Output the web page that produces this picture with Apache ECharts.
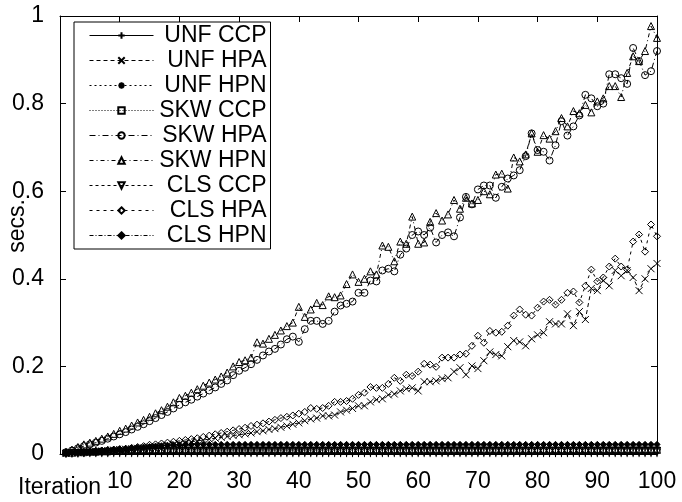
<!DOCTYPE html>
<html>
<head>
<meta charset="utf-8">
<script src="https://cdn.jsdelivr.net/npm/echarts@6/dist/echarts.min.js"></script>
<style>
html,body{margin:0;padding:0;background:#fff;}
#c{width:682px;height:502px;}
</style>
</head>
<body>
<div id="c"></div>
<script>
// ---- data ----
var iterations = [];
for (var k = 1; k <= 100; k++) iterations.push(k);

var seriesNames = ['UNF CCP','UNF HPA','UNF HPN','SKW CCP','SKW HPA','SKW HPN','CLS CCP','CLS HPA','CLS HPN'];
var xTickLabels = ['10','20','30','40','50','60','70','80','90','100'];
var yTickLabels = ['0','0.2','0.4','0.6','0.8','1'];

var unfCcp = [
.001,.001,.001,.002,.002,.002,.002,.002,.002,.002,
.002,.002,.002,.002,.002,.002,.002,.002,.002,.002,
.002,.002,.002,.002,.002,.002,.002,.002,.002,.002,
.002,.002,.002,.002,.002,.002,.002,.002,.002,.002,
.002,.002,.002,.002,.002,.002,.002,.002,.002,.002,
.002,.002,.002,.002,.002,.002,.002,.002,.002,.002,
.002,.002,.002,.002,.002,.002,.002,.002,.002,.002,
.002,.002,.002,.002,.002,.002,.002,.002,.002,.002,
.002,.002,.002,.002,.002,.002,.002,.002,.002,.002,
.002,.002,.002,.002,.002,.002,.002,.002,.002,.002];

var unfHpa = [
.001,.002,.003,.004,.005,.006,.007,.008,.009,.010,
.011,.012,.013,.014,.016,.017,.019,.020,.022,.024,
.026,.028,.030,.032,.034,.036,.038,.040,.042,.044,
.046,.048,.051,.053,.056,.058,.061,.064,.068,.071,
.076,.080,.082,.087,.087,.089,.096,.100,.104,.110,
.110,.119,.124,.126,.135,.137,.144,.149,.151,.144,
.165,.165,.167,.172,.174,.188,.197,.181,.201,.195,
.213,.233,.227,.224,.245,.259,.256,.247,.263,.272,
.277,.302,.297,.297,.320,.293,.325,.307,.378,.373,
.396,.384,.419,.407,.419,.403,.373,.400,.423,.435];

var unfHpn = [
.001,.002,.003,.004,.005,.006,.006,.007,.008,.009,
.009,.010,.011,.011,.012,.013,.013,.014,.014,.015,
.015,.015,.015,.015,.015,.015,.015,.015,.015,.015,
.015,.015,.015,.015,.015,.015,.015,.015,.015,.015,
.015,.015,.015,.015,.015,.015,.015,.015,.015,.015,
.015,.015,.015,.015,.015,.015,.015,.015,.015,.015,
.015,.015,.015,.015,.015,.015,.015,.015,.015,.015,
.015,.015,.015,.015,.015,.015,.015,.015,.015,.015,
.015,.015,.015,.015,.015,.015,.015,.015,.015,.015,
.015,.015,.015,.015,.015,.015,.015,.015,.015,.015];

var skwCcp = [
.002,.002,.003,.003,.004,.004,.005,.005,.006,.006,
.006,.007,.007,.007,.008,.008,.008,.009,.009,.009,
.009,.009,.009,.009,.009,.009,.009,.009,.009,.009,
.009,.009,.009,.009,.009,.009,.009,.009,.009,.009,
.009,.009,.009,.009,.009,.009,.009,.009,.009,.009,
.009,.009,.009,.009,.009,.009,.009,.009,.009,.009,
.009,.009,.009,.009,.009,.009,.009,.009,.009,.009,
.009,.009,.009,.009,.009,.009,.009,.009,.009,.009,
.009,.009,.009,.009,.009,.009,.009,.009,.009,.009,
.009,.009,.009,.009,.009,.009,.009,.009,.009,.009];

var skwHpa = [
.004,.008,.013,.018,.022,.026,.030,.035,.040,.045,
.050,.056,.062,.068,.075,.082,.089,.096,.104,.112,
.118,.124,.131,.138,.145,.152,.160,.168,.180,.190,
.197,.205,.215,.225,.234,.240,.250,.262,.268,.256,
.285,.304,.304,.297,.304,.325,.339,.343,.348,.368,
.368,.396,.394,.419,.423,.417,.455,.469,.500,.508,
.500,.517,.483,.500,.506,.497,.540,.587,.570,.604,
.613,.613,.585,.610,.629,.636,.648,.680,.732,.694,
.690,.670,.705,.760,.727,.748,.773,.820,.812,.794,
.800,.867,.867,.858,.845,.927,.897,.865,.874,.920];

var skwHpn = [
.005,.010,.016,.022,.026,.030,.035,.040,.046,.053,
.058,.065,.072,.078,.085,.093,.100,.108,.118,.128,
.133,.140,.148,.156,.163,.170,.177,.186,.200,.210,
.214,.220,.255,.252,.263,.272,.282,.292,.300,.336,
.313,.330,.345,.340,.360,.358,.362,.388,.410,.393,
.400,.417,.410,.476,.473,.440,.485,.480,.542,.480,
.483,.530,.550,.533,.547,.580,.560,.585,.572,.580,
.600,.593,.638,.640,.606,.677,.668,.684,.732,.690,
.728,.720,.737,.767,.748,.783,.778,.797,.780,.805,
.812,.840,.840,.815,.870,.908,.897,.920,.977,.950];

var clsCcp = [
.001,.002,.002,.002,.003,.003,.003,.003,.004,.004,
.004,.004,.004,.004,.004,.004,.004,.004,.004,.004,
.004,.004,.004,.004,.004,.004,.004,.004,.004,.004,
.004,.004,.004,.004,.004,.004,.004,.004,.004,.004,
.004,.004,.004,.004,.004,.004,.004,.004,.004,.004,
.004,.004,.004,.004,.004,.004,.004,.004,.004,.004,
.004,.004,.004,.004,.004,.004,.004,.004,.004,.004,
.004,.004,.004,.004,.004,.004,.004,.004,.004,.004,
.004,.004,.004,.004,.004,.004,.004,.004,.004,.004,
.004,.004,.004,.004,.004,.004,.004,.004,.004,.004];

var clsHpa = [
.002,.003,.004,.005,.006,.007,.008,.009,.010,.011,
.012,.014,.016,.018,.021,.022,.024,.026,.028,.030,
.032,.034,.036,.039,.042,.045,.048,.051,.054,.057,
.060,.064,.067,.070,.074,.078,.082,.085,.088,.092,
.096,.105,.103,.105,.110,.119,.119,.121,.126,.135,
.140,.153,.151,.151,.160,.174,.167,.181,.178,.188,
.206,.204,.199,.220,.220,.220,.227,.229,.247,.270,
.254,.281,.277,.279,.293,.316,.330,.318,.316,.334,
.348,.352,.341,.352,.368,.371,.346,.384,.421,.394,
.403,.428,.446,.428,.421,.485,.501,.462,.524,.497];

var clsHpn = [
.002,.003,.004,.005,.006,.008,.009,.010,.011,.012,
.013,.014,.015,.016,.017,.018,.019,.020,.021,.021,
.022,.022,.022,.022,.022,.022,.022,.022,.022,.022,
.022,.022,.022,.022,.022,.022,.022,.022,.022,.022,
.022,.022,.022,.022,.022,.022,.022,.022,.022,.022,
.022,.022,.022,.022,.022,.022,.022,.022,.022,.022,
.022,.022,.022,.022,.022,.022,.022,.022,.022,.022,
.022,.022,.022,.022,.022,.022,.022,.022,.022,.022,
.022,.022,.022,.022,.022,.022,.022,.022,.022,.022,
.022,.022,.022,.022,.022,.022,.022,.022,.022,.022];

var allValues = [unfCcp, unfHpa, unfHpn, skwCcp, skwHpa, skwHpn, clsCcp, clsHpa, clsHpn];

// ---- styles ----
var FONT = 'Liberation Sans, Arial, sans-serif';
var styles = [
  {dash: 'solid',       symbol: 'path://M0,5L10,5M5,0L5,10', size: 8, fill: 'transparent'},
  {dash: [4,3],         symbol: 'path://M0,0L10,10M10,0L0,10', size: 7, fill: 'transparent'},
  {dash: [2,3],         symbol: 'path://M0,5L10,5M5,0L5,10M1.5,1.5L8.5,8.5M8.5,1.5L1.5,8.5', size: 8, fill: 'transparent'},
  {dash: [1,2],         symbol: 'rect', size: 6, fill: 'transparent'},
  {dash: [6,3,1,3],     symbol: 'circle', size: 7, fill: 'transparent'},
  {dash: [4,3,1,3],     symbol: 'triangle', size: 7, fill: 'transparent'},
  {dash: [3,3],         symbol: 'path://M0,0L10,0L5,9Z', size: 7, fill: 'transparent'},
  {dash: [3,4],         symbol: 'diamond', size: 7, fill: 'transparent'},
  {dash: [4,2,1,2],     symbol: 'diamond', size: 6, fill: '#000'}
];

var series = seriesNames.map(function (name, i) {
  var st = styles[i];
  return {
    name: name,
    type: 'line',
    data: iterations.map(function (x, j) { return [x, allValues[i][j]]; }),
    symbol: st.symbol,
    symbolSize: st.size,
    showSymbol: true,
    showAllSymbol: true,
    lineStyle: {color: '#000', width: 1, type: st.dash},
    itemStyle: {color: st.fill, borderColor: '#000', borderWidth: 1},
    emphasis: {disabled: true},
    z: 2
  };
});

var chart = echarts.init(document.getElementById('c'), null, {renderer: 'canvas'});
var axisCommon = {
  axisLine: {show: true, onZero: false, lineStyle: {color: '#000', width: 1}},
  axisTick: {show: true, inside: true, length: 6, lineStyle: {color: '#000', width: 1}},
  splitLine: {show: false}
};
chart.setOption({
  animation: false,
  backgroundColor: '#fff',
  grid: {left: 60, right: 25, top: 16, bottom: 48, containLabel: false},
  xAxis: [
    Object.assign({
      type: 'value', min: 0, max: 100, interval: 10, position: 'bottom',
      axisLabel: {
        color: '#000', fontSize: 23, fontFamily: FONT, margin: 16,
        formatter: function (v) { var idx = Math.round(v / 10) - 1; return idx >= 0 ? xTickLabels[idx] : ''; }
      }
    }, axisCommon),
    Object.assign({
      type: 'value', min: 0, max: 100, interval: 10, position: 'top',
      axisLabel: {show: false}
    }, axisCommon)
  ],
  yAxis: [
    Object.assign({
      type: 'value', min: 0, max: 1, interval: 0.2, position: 'left',
      axisLabel: {
        color: '#000', fontSize: 23, fontFamily: FONT, margin: 16,
        formatter: function (v) { return yTickLabels[Math.round(v / 0.2)]; }
      }
    }, axisCommon),
    Object.assign({
      type: 'value', min: 0, max: 1, interval: 0.2, position: 'right',
      axisLabel: {show: false}
    }, axisCommon)
  ],
  legend: {
    show: true,
    orient: 'vertical',
    left: 74, top: 22,
    padding: [1, 4, 1, 15],
    itemWidth: 64, itemHeight: 8, itemGap: 0,
    selectedMode: false,
    borderColor: '#000', borderWidth: 1,
    backgroundColor: '#fff',
    data: seriesNames,
    lineStyle: {width: 1},
    formatter: function (n) { return '{a|' + n + '}'; },
    textStyle: {
      fontSize: 23, lineHeight: 25, fontFamily: FONT, color: '#000',
      rich: {a: {width: 108, height: 25, align: 'right', fontSize: 23, lineHeight: 25, fontFamily: FONT, color: '#000'}}
    }
  },
  graphic: [
    {type: 'text', left: 18, top: 476, style: {text: 'Iteration', font: '23px ' + FONT, fill: '#000'}},
    {type: 'text', x: 18, y: 226, rotation: Math.PI / 2,
     style: {text: 'secs.', font: '23px ' + FONT, fill: '#000', align: 'center', verticalAlign: 'middle'}}
  ],
  series: series
});
</script>
</body>
</html>
